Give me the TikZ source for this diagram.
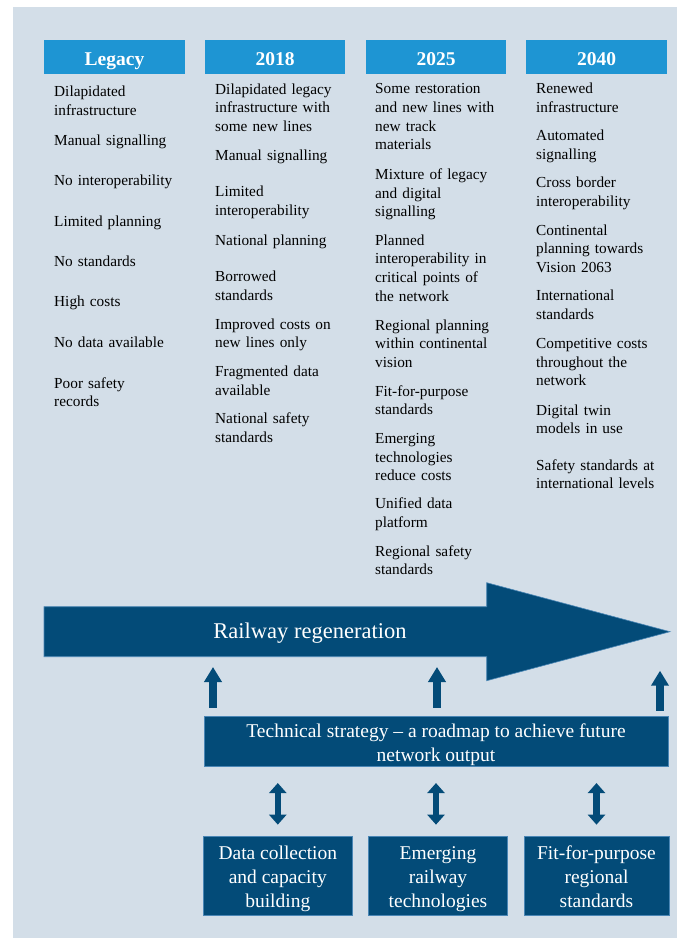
\documentclass[tikz,border=0pt]{standalone}
\usepackage{fontspec}
\setmainfont{Liberation Serif}
\usetikzlibrary{arrows.meta}
\definecolor{bgc}{HTML}{D3DEE8}
\definecolor{hdrc}{HTML}{1E95D3}
\definecolor{darkc}{HTML}{034B78}
\definecolor{edgec}{HTML}{4A86B5}
\newcommand\mystrut{\rule[-2.9pt]{0pt}{22.4pt}}
\tikzset{
  hdr/.style={fill=hdrc, text=white, font=\fontsize{19.5}{23}\selectfont\bfseries, inner sep=0pt, minimum height=34pt, text height=16pt, text depth=0pt},
  itm/.style={anchor=base west, inner sep=0pt, text width=160pt, align=left, font=\fontsize{15.3}{18.8}\selectfont, text=black},
  darkbox/.style={fill=darkc, draw=edgec, line width=0.7pt, text=white, align=center, inner sep=0pt, font=\fontsize{19.5}{24}\selectfont},
  uparrow/.style={draw=darkc, line width=8pt, -{Triangle[width=17pt,length=15pt]}},
  dblarrow/.style={draw=darkc, line width=6.5pt, {Triangle[width=17pt,length=10pt]}-{Triangle[width=17pt,length=10pt]}}
}
\begin{document}
\begin{tikzpicture}[x=1pt,y=-1pt]
\useasboundingbox (0,0) rectangle (677,938);
\fill[white] (0,0) rectangle (677,938);
\fill[bgc] (13,6.7) rectangle (677,938);

% headers
\node[hdr, minimum width=141pt] (hLeg) at (114.5,57) {Legacy};
\node[hdr, minimum width=140pt] (h18) at (275,57) {2018};
\node[hdr, minimum width=140pt] (h25) at (436,57) {2025};
\node[hdr, minimum width=141pt] (h40) at (596.5,57) {2040};

% Legacy column
\node[itm] (L1) at (54,96.7) {Dilapidated\\infrastructure};
\node[itm] (L2) at (54,145) {Manual signalling};
\node[itm] (L3) at (54,185) {No interoperability};
\node[itm] (L4) at (54,226) {Limited planning};
\node[itm] (L5) at (54,266) {No standards};
\node[itm] (L6) at (54,306) {High costs};
\node[itm] (L7) at (54,347.7) {No data available};
\node[itm] (L8) at (54,388) {Poor safety\\records};

% 2018 column
\node[itm] (A1) at (215,94) {Dilapidated legacy\\infrastructure with\\some new lines};
\node[itm] (A2) at (215,160) {Manual signalling};
\node[itm] (A3) at (215,196.7) {Limited\\interoperability};
\node[itm] (A4) at (215,245) {National planning};
\node[itm] (A5) at (215,281.7) {Borrowed\\standards};
\node[itm] (A6) at (215,329) {Improved costs on\\new lines only};
\node[itm] (A7) at (215,376.7) {Fragmented data\\available};
\node[itm] (A8) at (215,423.3) {National safety\\standards};

% 2025 column
\node[itm] (B1) at (375,93.5) {Some restoration\\and new lines with\\new track\\materials};
\node[itm] (B2) at (375,179.3) {Mixture of legacy\\and digital\\signalling};
\node[itm] (B3) at (375,245) {Planned\\interoperability in\\critical points of\\the network};
\node[itm] (B4) at (375,330) {Regional planning\\within continental\\vision};
\node[itm] (B5) at (375,396) {Fit-for-purpose\\standards};
\node[itm] (B6) at (375,443.3) {Emerging\\technologies\\reduce costs};
\node[itm] (B7) at (375,508.3) {Unified data\\platform};
\node[itm] (B8) at (375,556) {Regional safety\\standards};

% 2040 column
\node[itm] (C1) at (536,93.5) {Renewed\\infrastructure};
\node[itm] (C2) at (536,140.7) {Automated\\signalling};
\node[itm] (C3) at (536,187.7) {Cross border\\interoperability};
\node[itm] (C4) at (536,235) {Continental\\planning towards\\Vision 2063};
\node[itm] (C5) at (536,300.7) {International\\standards};
\node[itm] (C6) at (536,348.3) {Competitive costs\\throughout the\\network};
\node[itm] (C7) at (536,415) {Digital twin\\models in use};
\node[itm] (C8) at (536,470) {Safety standards at\\international levels};

% big arrow
\filldraw[fill=darkc, draw=edgec, line width=0.6pt]
  (44,606.7) -- (486.7,606.7) -- (486.7,582.7) -- (670,631.7) -- (486.7,680.7) -- (486.7,656.7) -- (44,656.7) -- cycle;
\node[text=white, font=\fontsize{22.5}{26}\selectfont, inner sep=0pt] (rail) at (310,633) {Railway regeneration};

% technical strategy box
\node[darkbox, minimum width=464pt, minimum height=50pt] (tech) at (436,741.7)
  {\mystrut Technical strategy -- a roadmap to achieve future\\\mystrut network output};

% up arrows
\coordinate (u1) at (213,667);
\coordinate (u2) at (437,667);
\coordinate (u3) at (660,670.7);
\draw[uparrow, shorten <=8.5pt] (tech.north -| u1) -- (u1);
\draw[uparrow, shorten <=8.5pt] (tech.north -| u2) -- (u2);
\draw[uparrow, shorten <=5.5pt] (tech.north -| u3) -- (u3);

% bottom boxes
\node[darkbox, minimum width=149pt, minimum height=79pt] (b1) at (277.8,875.5) {\mystrut Data collection\\and capacity\\\mystrut building};
\node[darkbox, minimum width=138.6pt, minimum height=79pt] (b2) at (438,875.5) {\mystrut Emerging\\railway\\\mystrut technologies};
\node[darkbox, minimum width=145pt, minimum height=79pt] (b3) at (596.5,875.5) {\mystrut Fit-for-purpose\\regional\\\mystrut standards};

% double arrows
\draw[dblarrow, shorten <=16pt, shorten >=11pt] (tech.south -| b1.north) -- (b1.north);
\draw[dblarrow, shorten <=16pt, shorten >=11pt] (tech.south -| 436,0) -- (b2.north -| 436,0);
\draw[dblarrow, shorten <=16pt, shorten >=11pt] (tech.south -| b3.north) -- (b3.north);
\end{tikzpicture}
\end{document}
